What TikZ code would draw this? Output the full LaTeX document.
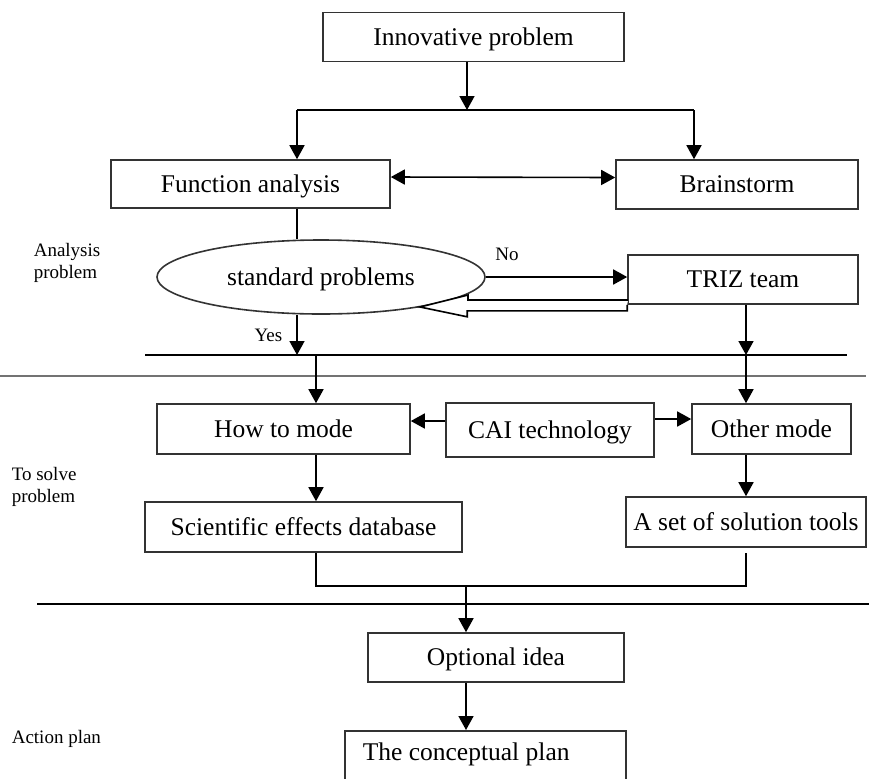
\documentclass[tikz,border=0pt]{standalone}
\usepackage{fontspec}
\setmainfont{Liberation Serif}
\usetikzlibrary{arrows.meta,positioning,shapes.geometric}

\begin{document}
\begin{tikzpicture}[
    x=0.5pt,y=-0.5pt,
    font=\fontsize{12.75}{15}\selectfont,
    line width=0.8pt,
    box/.style={draw=black!80,fill=white,inner sep=0pt,align=center,text depth=0.8pt},
    arrow/.style={-{Triangle[length=7pt,width=7.5pt]}},
    twoway/.style={{Triangle[length=7pt,width=7.5pt]}-{Triangle[length=7pt,width=7.5pt]}},
    side/.style={font=\fontsize{9.5}{11}\selectfont,align=left,anchor=west,inner sep=0pt},
    small/.style={font=\fontsize{9.5}{11}\selectfont,inner sep=0pt}
]
% Page size follows the scanned figure.
\path[use as bounding box] (0,0) rectangle (869,778);

\node[box,minimum width=150.5pt,minimum height=24.5pt] (inno) at (473.5,37) {Innovative problem};
\node[box,minimum width=139.5pt,minimum height=24pt] (func) at (250.5,184) {Function analysis};
\node[box,minimum width=121pt,minimum height=24.5pt] (brain) at (737,184.5) {Brainstorm};
\node[box,ellipse,minimum width=164pt,minimum height=37pt] (std) at (321,277) {standard problems};
\node[box,minimum width=115pt,minimum height=24.5pt] (triz) at (743,279.5) {TRIZ team};

\node[box,minimum width=126.5pt,minimum height=25pt] (how) at (283.5,429) {How to mode};
\node[box,minimum width=104pt,minimum height=27pt] (cai) at (550,430) {CAI technology};
\node[box,minimum width=79.5pt,minimum height=25pt] (other) at (771.5,429) {Other mode};
\node[box,minimum width=158.5pt,minimum height=25pt] (sci) at (303.5,527) {Scientific effects database};
\node[box,minimum width=120pt,minimum height=25pt] (tools) at (746,522) {A set of solution tools};

\node[box,minimum width=128pt,minimum height=24.5pt] (opt) at (496,657.5) {Optional idea};
\node[box,anchor=north west,text width=122.5pt,align=flush left,inner xsep=9pt,
      inner ysep=6pt,text height=9pt,text depth=26pt] (plan) at (344,730) {The conceptual plan};

% phase labels on the left margin
\node[side] (ana) at (33,263) {Analysis\\problem};
\node[side] (solve) at (11,487) {To solve\\problem};
\node[side] (act) at (11,739) {Action plan};

\coordinate (split) at (467,110);
\coordinate (lj) at (297,110);
\coordinate (rj) at (694,110);
\coordinate (s1l) at (145,355);
\coordinate (s1r) at (847,355);
\coordinate (s2l) at (0,376);
\coordinate (s2r) at (866,376);
\coordinate (s3l) at (37,604);
\coordinate (s3r) at (869,604);
\coordinate (lx) at (316,355);
\coordinate (rx) at (746,355);
\coordinate (join) at (466,586);
\coordinate (tip) at (420,307);

\draw[arrow] (inno.south -| split) -- (split);
\draw (lj) -- (rj);
\draw[arrow] (lj) -- (lj |- func.north);
\draw[arrow] (rj) -- (rj |- brain.north);
\draw[twoway] ([yshift=3.5pt]func.east) -- ([yshift=3.5pt]brain.west);

\draw (lj |- func.south) -- (lj |- std.north);
\draw[arrow] (std.east) -- node[pos=0.15,above=8pt,small] {No} (std.east -| triz.west);
\draw[arrow] (lj |- std.south) -- node[left=7pt,small] {Yes} (lj |- s1l);
% hollow return arrow from the team back to the check
\draw[fill=white] (triz.south west) -- ++(0,6) -- ++(-160,0) -- ++(0,6) -- (tip)
    -- ++(48,-12) -- ++(0,5) -- ++(160,0);
\draw[arrow] (triz.south -| rx) -- (rx);

\draw (s1l) -- (s1r);
\draw[black!55] (s2l) -- (s2r);
\draw (s3l) -- (s3r);

\draw[arrow] (lx) -- (lx |- how.north);
\draw[arrow] (rx) -- (rx |- other.north);
\draw[arrow] ([yshift=4.5pt]cai.west) -- ([yshift=4.5pt]cai.west -| how.east);
\draw[arrow] ([yshift=5.5pt]cai.east) -- ([yshift=5.5pt]cai.east -| other.west);
\draw[arrow] (lx |- how.south) -- (lx |- sci.north);
\draw[arrow] (rx |- other.south) -- (rx |- tools.north);

\draw (lx |- sci.south) |- (rx |- join) -- (rx |- sci.south);
\draw[arrow] (join) -- (join |- opt.north);
\draw[arrow] (opt.south -| join) -- (join |- plan.north);
\end{tikzpicture}
\end{document}
